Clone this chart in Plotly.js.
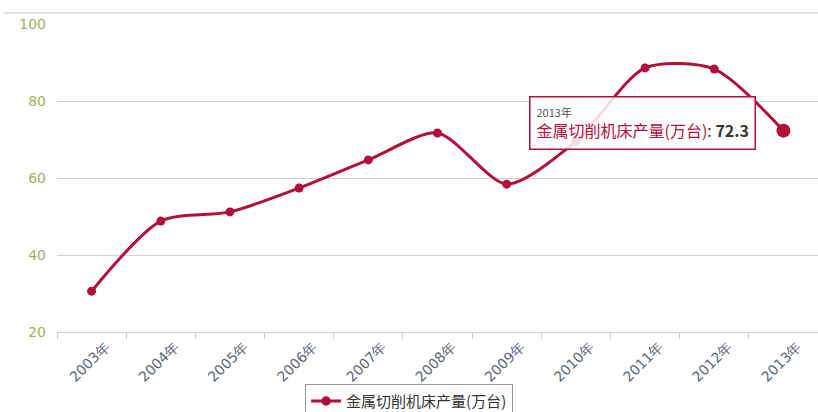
<!DOCTYPE html>
<html>
<head>
<meta charset="utf-8">
<script src="https://cdn.plot.ly/plotly-3.0.1.min.js"></script>
<style>html,body{margin:0;padding:0;background:#fff;}#chart{width:818px;height:412px;}</style>
</head>
<body>
<div id="chart"></div>
<script>
const years = ["2003年","2004年","2005年","2006年","2007年","2008年","2009年","2010年","2011年","2012年","2013年"];
const output = [30.6, 48.8, 51.2, 57.4, 64.7, 71.7, 58.4, 69.5, 88.6, 88.3, 72.3];
const seriesName = "金属切削机床产量(万台)";
const yTicks = [20, 40, 60, 80, 100];

const last = output.length - 1;
const red = "#b0103a";
const cjk = "'Noto Sans CJK SC', 'DejaVu Sans', sans-serif";

const trace = {
  type: "scatter",
  mode: "lines+markers",
  x: years,
  y: output,
  name: seriesName,
  line: {color: red, width: 3, shape: "spline", smoothing: 0.75},
  marker: {color: red, opacity: 1, line: {width: 0}, size: output.map((v, i) => i === last ? 14 : 9)},
  hoverinfo: "none"
};

const layout = {
  width: 818, height: 412,
  margin: {l: 57, r: 0, t: 24, b: 80, autoexpand: false},
  paper_bgcolor: "#fff", plot_bgcolor: "#fff",
  showlegend: true,
  legend: {
    orientation: "h", x: 0.326, xanchor: "left", y: -0.168, yanchor: "top",
    bordercolor: "#999", borderwidth: 1, bgcolor: "#fff",
    font: {family: cjk, size: 15, color: "#333"}
  },
  xaxis: {
    type: "category",
    automargin: false,
    range: [-0.5, years.length - 0.5],
    tickangle: -45,
    tickson: "boundaries",
    ticks: "outside", ticklen: 6, tickcolor: "#c0d0e0",
    ticklabelshift: 14,
    showline: true, linecolor: "#c0d0e0", linewidth: 1,
    showgrid: false, zeroline: false,
    tickfont: {family: "'DejaVu Sans', sans-serif", size: 14, color: "#5a6475"}
  },
  yaxis: {
    automargin: false,
    range: [20, 100],
    tickvals: yTicks,
    showgrid: true, gridcolor: "#d0d0d0", gridwidth: 1,
    zeroline: false, showline: false, ticks: "",
    ticklabelstandoff: 10,
    tickfont: {family: "'DejaVu Sans', sans-serif", size: 14, color: "#a0b060"}
  },
  shapes: [{
    type: "line", xref: "paper", yref: "paper",
    x0: -0.07, x1: 1, y0: 1.036, y1: 1.036,
    line: {color: "#e0e0e0", width: 2}
  }],
  annotations: [{
    xref: "x", yref: "y",
    x: years[last], y: output[last],
    showarrow: true, arrowcolor: "rgba(0,0,0,0)", arrowwidth: 0.1,
    ax: -141, ay: -8,
    align: "left",
    bgcolor: "rgba(255,255,255,0.85)",
    bordercolor: red, borderwidth: 1.5, borderpad: 6,
    font: {family: cjk, size: 16, color: red},
    text: "<span style='font-size:11px;color:#555'>" + years[last] + "</span><br>" +
          seriesName + "<span style='color:#333'>: <b>" + output[last] + "</b></span>"
  }]
};

Plotly.newPlot("chart", [trace], layout, {displayModeBar: false, staticPlot: true});
</script>
</body>
</html>
